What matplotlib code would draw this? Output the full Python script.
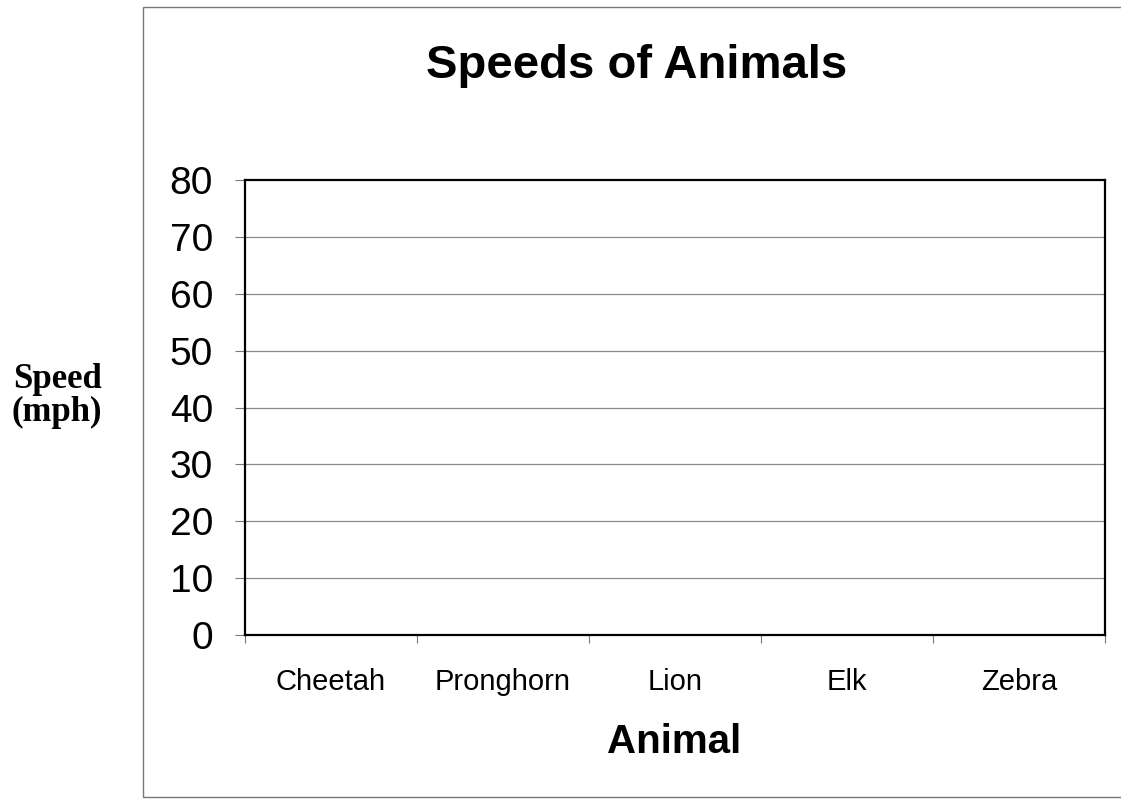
import matplotlib
matplotlib.use("Agg")
import matplotlib.pyplot as plt
from matplotlib.patches import Rectangle

animals = ["Cheetah", "Pronghorn", "Lion", "Elk", "Zebra"]
y_ticks = [0, 10, 20, 30, 40, 50, 60, 70, 80]

plt.rcParams["font.family"] = ["Liberation Sans", "DejaVu Sans"]

W, H = 1121, 800
fig = plt.figure(figsize=(W / 100, H / 100), dpi=100)

# plot area in pixels
left, right, top, bottom = 245, 1105, 180, 635
ax = fig.add_axes([left / W, 1 - bottom / H, (right - left) / W, (bottom - top) / H])

# outer chart frame (runs off the right edge of the scan)
fig.patches.append(Rectangle((143 / W, 1 - 797 / H), (1130 - 143) / W, (797 - 7) / H,
                             transform=fig.transFigure, fill=False,
                             edgecolor="#777777", linewidth=1.0))

ax.set_xlim(-0.5, len(animals) - 0.5)
ax.set_ylim(y_ticks[0], y_ticks[-1])

ax.set_yticks(y_ticks)
ax.set_yticklabels([str(v) for v in y_ticks])
for v in y_ticks[1:-1]:
    ax.axhline(v, color="#8a8a8a", linewidth=0.9, zorder=0)

ax.set_xticks(range(len(animals)))
ax.set_xticklabels(animals)
ax.set_xticks([i - 0.5 for i in range(len(animals) + 1)], minor=True)

ax.tick_params(axis="y", direction="out", length=7, width=0.8, color="#777777",
               labelsize=28, pad=16)
ax.tick_params(axis="x", which="major", length=0, labelsize=21, pad=24)
ax.tick_params(axis="x", which="minor", direction="out", length=6, width=0.8,
               color="#777777")

for s in ax.spines.values():
    s.set_linewidth(1.6)
    s.set_color("black")

fig.text(637 / W, 1 - 78 / H, "Speeds of Animals", ha="center", va="baseline",
         fontsize=34, fontweight="bold")
fig.text(674 / W, 1 - 753 / H, "Animal", ha="center", va="baseline",
         fontsize=29, fontweight="bold")
fig.text(57 / W, 1 - 396 / H, "Speed\n(mph)", ha="center", va="center",
         fontsize=25, fontweight="bold", family=["Liberation Serif", "DejaVu Serif"],
         linespacing=1.0)

fig.savefig("out.png", dpi=100)
